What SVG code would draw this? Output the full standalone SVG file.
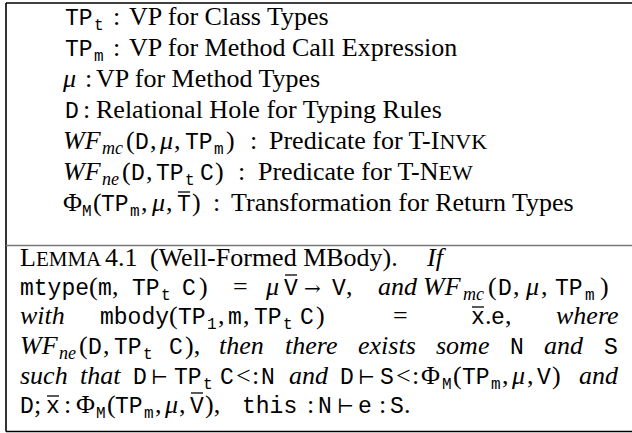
<svg xmlns="http://www.w3.org/2000/svg" width="632" height="433" viewBox="0 0 632 433">
<style>
.s{font-family:"Liberation Serif","Times New Roman",serif;font-size:26px;fill:#000}
.i{font-style:italic}
.t{font-family:"Liberation Mono","Courier New",monospace;font-size:23px}
.sb{font-size:18px}
.tb{font-family:"Liberation Mono","Courier New",monospace;font-size:16px}
.sc{font-size:21px}
.sc2{font-size:22px}
.y{font-family:"DejaVu Serif",serif;font-size:20px}
.fr{stroke:#000;stroke-width:1.6;fill:none}
.dv{stroke:#777;stroke-width:1.6}
.ov{stroke:#000;stroke-width:1.3}
</style>
<rect width="632" height="433" fill="#fff"/>
<g id="frame">
<line class="fr" x1="6" y1="3" x2="632" y2="3"/>
<line class="fr" x1="6" y1="3" x2="6" y2="431.5"/>
<line class="dv" x1="6" y1="245.5" x2="632" y2="245.5"/>
<line class="fr" x1="6" y1="431.5" x2="632" y2="431.5"/>
</g>
<g id="legend">
<text class="s" y="25"><tspan class="t" x="65">TP</tspan><tspan class="tb" x="94" y="30">t</tspan><tspan x="113" y="25">:</tspan><tspan x="129">VP for Class Types</tspan></text>
<text class="s" y="56"><tspan class="t" x="65">TP</tspan><tspan class="tb" x="94" y="61">m</tspan><tspan x="113" y="56">:</tspan><tspan x="129">VP for Method Call Expression</tspan></text>
<text class="s" y="87"><tspan class="i" x="63">μ</tspan><tspan x="85">:</tspan><tspan x="96">VP for Method Types</tspan></text>
<text class="s" y="118"><tspan class="t" x="65">D</tspan><tspan x="83">:</tspan><tspan x="96">Relational Hole for Typing Rules</tspan></text>
<text class="s" y="149"><tspan class="i" x="63">WF</tspan><tspan class="i sb" x="102" y="154">mc</tspan><tspan x="126" y="149">(</tspan><tspan class="t" x="135">D</tspan><tspan x="150">,</tspan><tspan class="i" x="160">μ</tspan><tspan x="174">,</tspan><tspan class="t" x="185">TP</tspan><tspan class="tb" x="214" y="154">m</tspan><tspan x="226" y="149">)</tspan><tspan x="250">:</tspan><tspan x="269">Predicate for T-I</tspan><tspan class="sc2">NVK</tspan></text>
<text class="s" y="180"><tspan class="i" x="63">WF</tspan><tspan class="i sb" x="102" y="185">ne</tspan><tspan x="122" y="180">(</tspan><tspan class="t" x="131">D</tspan><tspan x="146">,</tspan><tspan class="t" x="156">TP</tspan><tspan class="tb" x="185" y="185">t</tspan><tspan class="t" x="200" y="180">C</tspan><tspan x="215">)</tspan><tspan x="238">:</tspan><tspan x="258">Predicate for T-N</tspan><tspan class="sc2">EW</tspan></text>
<text class="s" y="211"><tspan x="63">Φ</tspan><tspan class="tb" x="82" y="216">M</tspan><tspan x="93" y="211">(</tspan><tspan class="t" x="101">TP</tspan><tspan class="tb" x="130" y="216">m</tspan><tspan x="141" y="211">,</tspan><tspan class="i" x="152">μ</tspan><tspan x="166">,</tspan><tspan class="t" x="177">T</tspan><tspan x="192">)</tspan><tspan x="213">:</tspan><tspan x="231">Transformation for Return Types</tspan></text>
<line class="ov" x1="178" y1="192" x2="190" y2="192"/>
</g>
<g id="lemma">
<text class="s" y="266"><tspan x="20">L</tspan><tspan class="sc">EMMA</tspan><tspan x="105">4.1</tspan><tspan x="150">(Well-Formed MBody).</tspan><tspan class="i" x="427">If</tspan></text>
<text class="s" y="295"><tspan class="t" x="20">mtype</tspan><tspan x="89">(</tspan><tspan class="t" x="98">m</tspan><tspan x="112">,</tspan><tspan class="t" x="132">TP</tspan><tspan class="tb" x="161" y="300">t</tspan><tspan class="t" x="182" y="295">C</tspan><tspan x="199">)</tspan><tspan x="233">=</tspan><tspan class="i" x="266">μ</tspan><tspan class="t" x="284">V</tspan><tspan class="y" x="304">→</tspan><tspan class="t" x="332">V</tspan><tspan x="346">,</tspan><tspan class="i" x="378">and</tspan><tspan class="i" x="423">WF</tspan><tspan class="i sb" x="463" y="300">mc</tspan><tspan x="488" y="295">(</tspan><tspan class="t" x="498">D</tspan><tspan x="513">,</tspan><tspan class="i" x="526">μ</tspan><tspan x="541">,</tspan><tspan class="t" x="555">TP</tspan><tspan class="tb" x="585" y="300">m</tspan><tspan x="600" y="295">)</tspan></text>
<line class="ov" x1="285" y1="275" x2="297" y2="275"/>
<text class="s" y="324"><tspan class="i" x="20">with</tspan><tspan class="t" x="100">mbody</tspan><tspan x="169">(</tspan><tspan class="t" x="178">TP</tspan><tspan class="tb" x="207" y="329">1</tspan><tspan x="218" y="324">,</tspan><tspan class="t" x="228">m</tspan><tspan x="243">,</tspan><tspan class="t" x="254">TP</tspan><tspan class="tb" x="283" y="329">t</tspan><tspan class="t" x="300" y="324">C</tspan><tspan x="316">)</tspan><tspan x="393">=</tspan><tspan class="t" x="471">x</tspan><tspan x="485">.</tspan><tspan class="t" x="491">e</tspan><tspan x="505">,</tspan><tspan class="i" x="556">where</tspan></text>
<line class="ov" x1="472" y1="307" x2="484" y2="307"/>
<text class="s" y="354"><tspan class="i" x="20">WF</tspan><tspan class="i sb" x="59" y="359">ne</tspan><tspan x="79" y="354">(</tspan><tspan class="t" x="88">D</tspan><tspan x="103">,</tspan><tspan class="t" x="114">TP</tspan><tspan class="tb" x="143" y="359">t</tspan><tspan class="t" x="169" y="354">C</tspan><tspan x="185">),</tspan><tspan class="i" x="219">then</tspan><tspan class="i" x="285">there</tspan><tspan class="i" x="358">exists</tspan><tspan class="i" x="436">some</tspan><tspan class="t" x="510">N</tspan><tspan class="i" x="544">and</tspan><tspan class="t" x="604">S</tspan></text>
<text class="s" y="384"><tspan class="i" x="20">such</tspan><tspan class="i" x="80">that</tspan><tspan class="t" x="133">D</tspan><tspan class="y" x="151">⊢</tspan><tspan class="t" x="174">TP</tspan><tspan class="tb" x="203" y="389">t</tspan><tspan class="t" x="220" y="384">C</tspan><tspan x="236">&lt;</tspan><tspan x="252">:</tspan><tspan class="t" x="261">N</tspan><tspan class="i" x="289">and</tspan><tspan class="t" x="340">D</tspan><tspan class="y" x="358">⊢</tspan><tspan class="t" x="380">S</tspan><tspan x="396">&lt;</tspan><tspan x="412">:</tspan><tspan x="421">Φ</tspan><tspan class="tb" x="442" y="389">M</tspan><tspan x="453" y="384">(</tspan><tspan class="t" x="462">TP</tspan><tspan class="tb" x="491" y="389">m</tspan><tspan x="502" y="384">,</tspan><tspan class="i" x="512">μ</tspan><tspan x="527">,</tspan><tspan class="t" x="537">V</tspan><tspan x="552">)</tspan><tspan class="i" x="579">and</tspan></text>
<text class="s" y="413"><tspan class="t" x="20">D</tspan><tspan x="34">;</tspan><tspan class="t" x="46">x</tspan><tspan x="64">:</tspan><tspan x="76">Φ</tspan><tspan class="tb" x="96" y="418">M</tspan><tspan x="107" y="413">(</tspan><tspan class="t" x="115">TP</tspan><tspan class="tb" x="144" y="418">m</tspan><tspan x="155" y="413">,</tspan><tspan class="i" x="165">μ</tspan><tspan x="179">,</tspan><tspan class="t" x="190">V</tspan><tspan x="205">),</tspan><tspan class="t" x="242">this</tspan><tspan x="307">:</tspan><tspan class="t" x="318">N</tspan><tspan class="y" x="337">⊢</tspan><tspan class="t" x="358">e</tspan><tspan x="379">:</tspan><tspan class="t" x="390">S</tspan><tspan x="404">.</tspan></text>
<line class="ov" x1="47" y1="396" x2="59" y2="396"/>
<line class="ov" x1="191" y1="393" x2="203" y2="393"/>
</g>
</svg>
